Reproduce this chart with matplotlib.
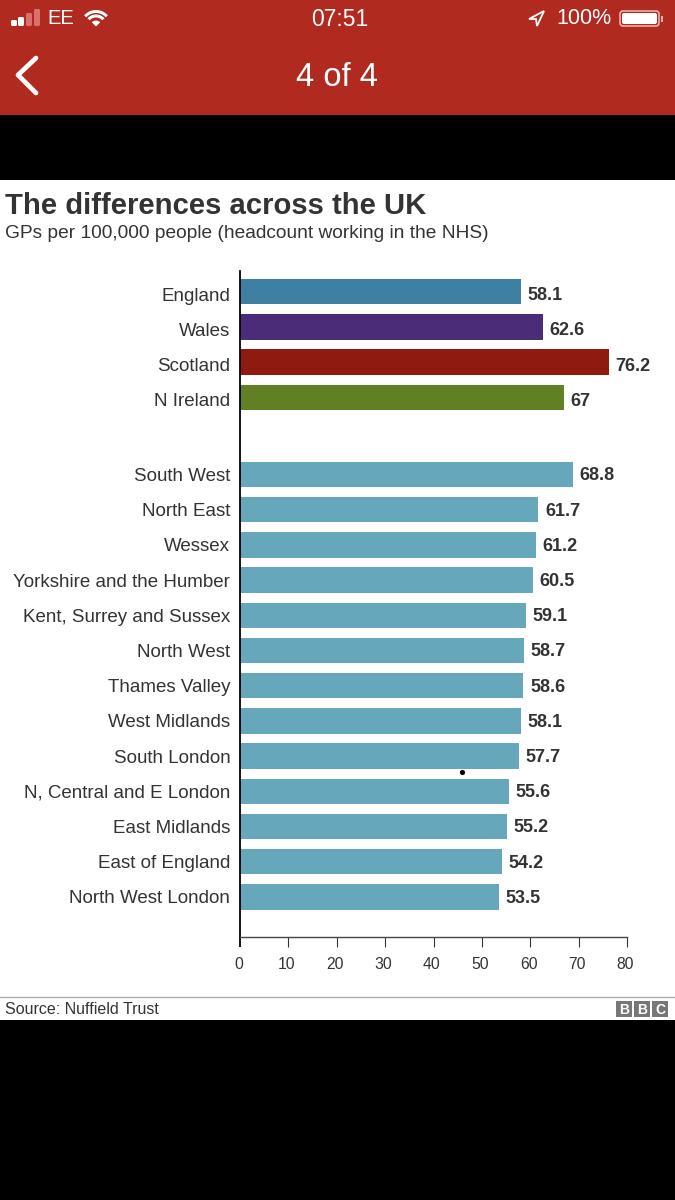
"""BBC chart of GP headcount across the UK, as seen in an iPhone screenshot."""
import numpy as np
import matplotlib
matplotlib.use("Agg")
import matplotlib.pyplot as plt
from matplotlib.patches import Rectangle, FancyBboxPatch, Polygon, Wedge
from matplotlib.transforms import ScaledTranslation

plt.rcParams["font.family"] = ["Liberation Sans", "DejaVu Sans"]

nations = ["England", "Wales", "Scotland", "N Ireland"]
nation_values = [58.1, 62.6, 76.2, 67]
nation_colors = ["#3f7fa3", "#4b2c78", "#8f1a10", "#618024"]

regions = ["South West", "North East", "Wessex", "Yorkshire and the Humber",
           "Kent, Surrey and Sussex", "North West", "Thames Valley",
           "West Midlands", "South London", "N, Central and E London",
           "East Midlands", "East of England", "North West London"]
region_values = [68.8, 61.7, 61.2, 60.5, 59.1, 58.7, 58.6, 58.1, 57.7, 55.6,
                 55.2, 54.2, 53.5]
region_color = "#66a7bc"

xticks = [0, 10, 20, 30, 40, 50, 60, 70, 80]

W, H = 675, 1200
RED = "#b02a20"
INK = "#333333"


def label_text(v):
    return f"{v:g}"


fig = plt.figure(figsize=(W / 100, H / 100), dpi=100, facecolor="black")

# screen furniture, in pixel coordinates
bg = fig.add_axes([0, 0, 1, 1], zorder=0)
bg.set_xlim(0, W)
bg.set_ylim(H, 0)
bg.axis("off")
bg.add_patch(Rectangle((0, 0), W, 115, color=RED, lw=0))
bg.add_patch(Rectangle((0, 180), W, 840, color="white", lw=0))

# signal bars
for x, top, c in [(11, 20, "white"), (18, 17, "white"), (26, 13, "#d9706a"), (34, 9, "#d9706a")]:
    bg.add_patch(FancyBboxPatch((x, top), 6, 26 - top, boxstyle="round,pad=0,rounding_size=1.5",
                                fc=c, ec="none"))
bg.text(47, 19, "EE", color="white", fontsize=14.5, va="center", ha="left")
# wifi
for r in [16, 11.5]:
    bg.add_patch(Wedge((96, 26), r, 222, 318, width=3, color="white", lw=0))
bg.add_patch(Wedge((96, 26.5), 6, 225, 315, color="white", lw=0))
bg.text(340, 19, "07:51", color="white", fontsize=16.5, va="center", ha="center")
# location arrow
bg.add_patch(Polygon([[529, 19], [544, 11], [537, 26], [536, 19]], closed=True,
                     fill=False, ec="white", lw=1.3))
bg.text(612, 19, "100%", color="white", fontsize=15.5, va="center", ha="right")
# battery
bg.add_patch(FancyBboxPatch((620, 11), 39, 15, boxstyle="round,pad=0,rounding_size=3",
                            fc="none", ec="#e8b0aa", lw=1.2))
bg.add_patch(FancyBboxPatch((622, 13), 35, 11, boxstyle="round,pad=0,rounding_size=2",
                            fc="white", ec="none"))
bg.add_patch(Rectangle((661, 16), 2, 6, color="#e8b0aa", lw=0))
# back chevron
bg.plot([36, 18, 36], [58, 75, 93], color="white", lw=3.4, solid_capstyle="round",
        solid_joinstyle="round")
bg.text(337, 78, "4 of 4", color="white", fontsize=23.5, va="center", ha="center")

# headings and footer
bg.text(5, 206, "The differences across the UK", color=INK, fontsize=21.1,
        fontweight="bold", va="center", ha="left")
bg.text(5, 234, "GPs per 100,000 people (headcount working in the NHS)", color=INK,
        fontsize=13.75, va="center", ha="left")
bg.plot([0, W], [996.5, 996.5], color="#aaaaaa", lw=1)
bg.text(5, 1009.5, "Source: Nuffield Trust", color=INK, fontsize=11.5, va="center", ha="left")
for x, ch in zip([616, 634, 652], "BBC"):
    bg.add_patch(Rectangle((x, 1001), 16, 16, color="#777777", lw=0))
    bg.text(x + 8, 1009.5, ch, color="white", fontsize=10, fontweight="bold",
            va="center", ha="center")
# stray speck in the screenshot
bg.scatter([462], [772], s=14, color="black", lw=0)

# the chart itself
left, right, top, bottom = 240, 627, 271, 937
ax = fig.add_axes([left / W, 1 - bottom / H, (right - left) / W, (bottom - top) / H],
                  zorder=1)
ax.patch.set_alpha(0)

names = nations + regions
values = nation_values + region_values
colors = nation_colors + [region_color] * len(regions)
rows = np.concatenate([np.arange(len(nations)),
                       np.arange(len(regions)) + len(nations) + 1.19])

ax.barh(rows, values, height=0.72, color=colors, lw=0)
# in the upper block the labels sit a little below the bar centres
for i, (y, v) in enumerate(zip(rows, values)):
    dy = -2.8 if i < len(nations) else -1
    ax.annotate(label_text(v), (v, y), xytext=(4.7, dy), textcoords="offset points",
                fontsize=13, fontweight="bold", color=INK, va="center", ha="left")

ax.set_xlim(0, 80)
ax.set_ylim(18.33, -0.59)
ax.set_yticks(rows)
ax.set_yticklabels(names, fontsize=13.5, color=INK)
ax.set_xticks(xticks)
ax.tick_params(axis="y", length=0, pad=7)
ax.tick_params(axis="x", length=7.5, width=0.8, color="#333333", labelsize=11.3,
               labelcolor=INK, pad=7)
for i, lab in enumerate(ax.get_yticklabels()):
    dy = -1.8 if i < len(nations) else 0
    lab.set_transform(lab.get_transform() + ScaledTranslation(0, dy / 72, fig.dpi_scale_trans))
for lab in ax.get_xticklabels():
    lab.set_transform(lab.get_transform() + ScaledTranslation(-1.1 / 72, 0, fig.dpi_scale_trans))
# the y axis line runs on through the first tick
zero_tick = ax.xaxis.get_major_ticks()[0].tick1line
zero_tick.set_markeredgewidth(1.3)
zero_tick.set_markeredgecolor("black")
for s in ["top", "right"]:
    ax.spines[s].set_visible(False)
ax.spines["left"].set_linewidth(1.3)
ax.spines["left"].set_color("black")
ax.spines["bottom"].set_linewidth(1)
ax.spines["bottom"].set_color("#444444")

fig.savefig("out.png", dpi=100, facecolor=fig.get_facecolor())
